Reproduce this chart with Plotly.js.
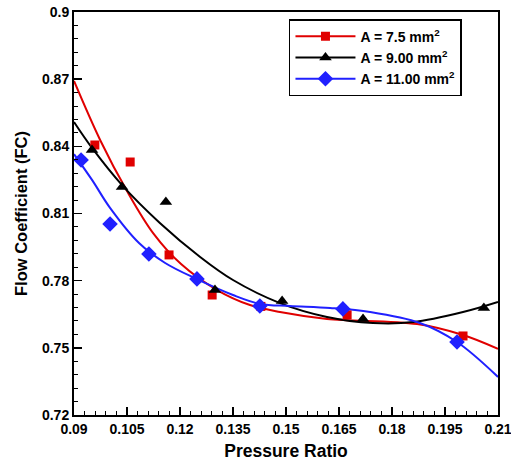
<!DOCTYPE html>
<html>
<head>
<meta charset="utf-8">
<script src="https://cdn.plot.ly/plotly-3.0.1.min.js"></script>
<style>html,body{margin:0;padding:0;background:#fff;}#chart{width:511px;height:462px;}</style>
</head>
<body>
<div id="chart"></div>
<script>
// Measured data points
const redX = [0.0959, 0.1059, 0.1169, 0.1291, 0.1429, 0.1673, 0.2001];
const redY = [0.8406, 0.8330, 0.7915, 0.7736, 0.7685, 0.7647, 0.7553];
const blackX = [0.0951, 0.1036, 0.1160, 0.1299, 0.1489, 0.1718, 0.2060];
const blackY = [0.8384, 0.8218, 0.8151, 0.7758, 0.7709, 0.7629, 0.7678];
const blueX = [0.0920, 0.1002, 0.1112, 0.1248, 0.1426, 0.1661, 0.1984];
const blueY = [0.8339, 0.8053, 0.7919, 0.7808, 0.7687, 0.7674, 0.7526];

// Fitted trend curves
const redFitX = [0.0900, 0.0975, 0.1050, 0.1125, 0.1203, 0.1305, 0.1398, 0.1483, 0.1616, 0.1871, 0.2001, 0.2100];
const redFitY = [0.8692, 0.8425, 0.8200, 0.8010, 0.7874, 0.7758, 0.7691, 0.7660, 0.7629, 0.7606, 0.7557, 0.7495];
const blackFitX = [0.0900, 0.0951, 0.1036, 0.1143, 0.1257, 0.1350, 0.1483, 0.1616, 0.1746, 0.1860, 0.2001, 0.2100];
const blackFitY = [0.8509, 0.8393, 0.8227, 0.8058, 0.7906, 0.7803, 0.7700, 0.7638, 0.7611, 0.7615, 0.7660, 0.7705];
const blueFitX = [0.0900, 0.0951, 0.1002, 0.1084, 0.1158, 0.1248, 0.1350, 0.1427, 0.1511, 0.1625, 0.1738, 0.1879, 0.1984, 0.2100];
const blueFitY = [0.8365, 0.8250, 0.8125, 0.7968, 0.7879, 0.7807, 0.7736, 0.7696, 0.7687, 0.7678, 0.7660, 0.7611, 0.7526, 0.7370];

const names = ['A = 7.5 mm<sup>2</sup>', 'A = 9.00 mm<sup>2</sup>', 'A = 11.00 mm<sup>2</sup>'];
const colors = ['#e00000', '#000000', '#2020ff'];

// separate every point by a gap so the marker traces draw no connecting segments
const gapped = a => a.flatMap(v => [v, null]);

const traces = [
  {x: redFitX, y: redFitY, mode: 'lines', line: {color: colors[0], width: 2, shape: 'spline'}, showlegend: false, hoverinfo: 'skip'},
  {x: blackFitX, y: blackFitY, mode: 'lines', line: {color: colors[1], width: 2, shape: 'spline'}, showlegend: false, hoverinfo: 'skip'},
  {x: blueFitX, y: blueFitY, mode: 'lines', line: {color: colors[2], width: 2, shape: 'spline'}, showlegend: false, hoverinfo: 'skip'},
  {x: gapped(redX), y: gapped(redY), mode: 'lines+markers', connectgaps: false, name: names[0], line: {color: colors[0], width: 2}, marker: {symbol: 'square', size: 9, color: colors[0]}},
  {x: gapped(blackX), y: gapped(blackY), mode: 'lines+markers', connectgaps: false, name: names[1], line: {color: colors[1], width: 2}, marker: {symbol: 'triangle-up', size: 11, color: colors[1]}},
  {x: gapped(blueX), y: gapped(blueY), mode: 'lines+markers', connectgaps: false, name: names[2], line: {color: colors[2], width: 2}, marker: {symbol: 'diamond', size: 12, color: colors[2]}}
];

const fam = 'Liberation Sans, Arial, sans-serif';
const layout = {
  width: 511, height: 462,
  margin: {l: 74, r: 13, t: 12, b: 47},
  paper_bgcolor: '#fff', plot_bgcolor: '#fff',
  font: {family: fam, color: '#000'},
  showlegend: true,
  legend: {
    x: 0.507, y: 0.982, xanchor: 'left', yanchor: 'top',
    bordercolor: '#000', borderwidth: 1.5, bgcolor: '#fff',
    font: {family: fam, size: 14, color: '#000', weight: 'bold'},
    tracegroupgap: 0, itemwidth: 60
  },
  xaxis: {
    range: [0.09, 0.21], dtick: 0.015, tick0: 0.09,
    ticks: 'inside', ticklen: 8, tickwidth: 1.5, tickcolor: '#000',
    minor: {dtick: 0.003, ticks: 'inside', ticklen: 4, tickwidth: 1, tickcolor: '#000'},
    showline: true, mirror: true, linecolor: '#000', linewidth: 2,
    showgrid: false, zeroline: false, ticklabeloverflow: 'allow',
    tickfont: {family: fam, size: 14, color: '#000', weight: 'bold'},
    title: {text: 'Pressure Ratio', font: {family: fam, size: 17.5, color: '#000', weight: 'bold'}, standoff: 9}
  },
  yaxis: {
    range: [0.72, 0.9], dtick: 0.03, tick0: 0.72,
    ticks: 'inside', ticklen: 8, tickwidth: 1.5, tickcolor: '#000',
    minor: {dtick: 0.006, ticks: 'inside', ticklen: 4, tickwidth: 1, tickcolor: '#000'},
    showline: true, mirror: true, linecolor: '#000', linewidth: 2,
    showgrid: false, zeroline: false, ticklabeloverflow: 'allow',
    tickfont: {family: fam, size: 14, color: '#000', weight: 'bold'},
    title: {text: 'Flow Coefficient (FC)', font: {family: fam, size: 16.5, color: '#000', weight: 'bold'}, standoff: 10}
  }
};

Plotly.newPlot('chart', traces, layout, {displayModeBar: false, staticPlot: true});
</script>
</body>
</html>
